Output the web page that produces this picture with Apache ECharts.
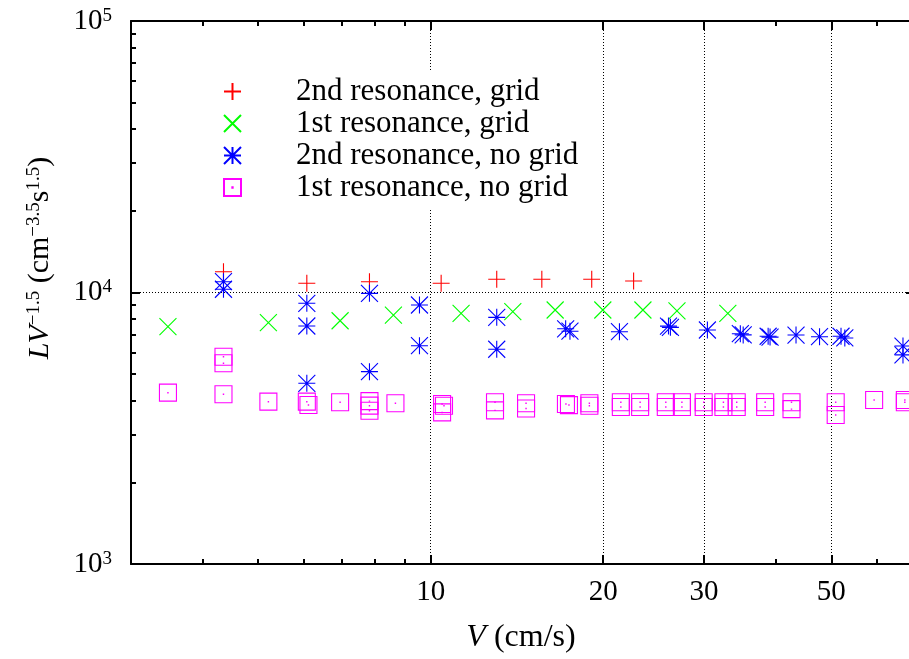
<!DOCTYPE html>
<html><head><meta charset="utf-8">
<script src="https://cdn.jsdelivr.net/npm/echarts@6/dist/echarts.min.js"></script>
<style>html,body{margin:0;padding:0;background:#fff}#c{width:909px;height:659px}</style>
</head><body><div id="c"></div>
<script>
// ---- axis ticks ----
const xMajor = [10, 20, 30, 50];
const xMinor = [4, 5, 6, 7, 8, 9, 40, 60];
const yMajor = [1000, 10000, 100000];
const yMinor = [2000, 3000, 4000, 5000, 6000, 7000, 8000, 9000, 20000, 30000, 40000, 50000, 60000, 70000, 80000, 90000];

// ---- series names ----
const names = ['2nd resonance, grid', '1st resonance, grid', '2nd resonance, no grid', '1st resonance, no grid'];

// ---- data: V (cm/s) and L V^-1.5 ----
const redV = [4.35, 6.08, 7.82, 10.43, 13.04, 15.63, 19.1, 22.6];
const redL = [11930, 10810, 10960, 10810, 11190, 11190, 11190, 11030];

const greenV = [3.48, 5.21, 6.95, 8.61, 11.3, 13.91, 16.49, 19.97, 23.46, 26.9, 33.0];
const greenL = [7480, 7740, 7870, 8260, 8380, 8500, 8620, 8620, 8620, 8550, 8380];

const blueV = [4.35, 4.35, 6.08, 6.08, 6.08, 7.82, 7.82, 9.56, 9.56, 13.04, 13.04, 17.2, 17.5, 21.35, 26.0, 26.2, 30.4, 34.7, 35.1, 38.8, 39.1, 43.4, 47.7, 52.0, 52.8, 66.7, 66.7];
const blueL = [10960, 10280, 9125, 7526, 4630, 9930, 5110, 8995, 6370, 8100, 6180, 7350, 7200, 7170, 7520, 7440, 7276, 7050, 6980, 6900, 6850, 6970, 6874, 6900, 6800, 6350, 5890];

const magV = [3.48, 4.35, 4.35, 4.35, 5.21, 6.08, 6.12, 6.95, 7.82, 7.82, 7.82, 8.68, 10.47, 10.55, 10.47, 12.95, 12.95, 14.67, 14.67, 17.22, 17.43, 18.92, 18.92, 21.47, 21.47, 23.2, 23.2, 25.72, 25.72, 27.44, 27.44, 29.95, 29.95, 32.42, 32.42, 34.2, 34.2, 38.34, 38.34, 42.62, 42.62, 50.9, 50.9, 59.4, 67.2, 67.2];
const magL = [4276, 5800, 5485, 4218, 3962, 3962, 3852, 3941, 3980, 3830, 3670, 3909, 3886, 3825, 3617, 3941, 3680, 3909, 3741, 3886, 3849, 3909, 3825, 3941, 3786, 3941, 3786, 3941, 3786, 3941, 3786, 3941, 3786, 3941, 3786, 3941, 3786, 3941, 3786, 3941, 3720, 3941, 3540, 4018, 4018, 3941];

const FONT = 'Liberation Serif';
const zip = (a, b) => a.map((v, i) => [v, b[i]]);

const SYM_PLUS = 'path://M5,0L5,10M0,5L10,5';
const SYM_CROSS = 'path://M0,0L10,10M0,10L10,0';
const SYM_STAR = 'path://M5,0L5,10M0,5L10,5M0,0L10,10M0,10L10,0';
const SYM_BOX = 'path://M0,0L10,0L10,10L0,10ZM4.9,4.9L5.1,4.9L5.1,5.1L4.9,5.1Z';

function xAx(position, ticks, len, line, labels, split) {
  return {
    type: 'log', min: 3, max: 70, position,
    axisLine: {show: true, lineStyle: {color: line ? '#000' : 'rgba(0,0,0,0)', width: 2}},
    axisTick: {show: true, inside: true, length: len, customValues: ticks, lineStyle: {color: '#000', width: 2}},
    axisLabel: {show: labels, customValues: xMajor, margin: 14, color: '#000', fontFamily: FONT, fontSize: 29},
    splitLine: {show: split, lineStyle: {color: '#000', width: 1, type: [1, 2]}}
  };
}
function yAx(position, ticks, len, line, labels, split) {
  return {
    type: 'log', min: 1000, max: 100000, position,
    axisLine: {show: true, lineStyle: {color: line ? '#000' : 'rgba(0,0,0,0)', width: 2}},
    axisTick: {show: true, inside: true, length: len, customValues: ticks, lineStyle: {color: '#000', width: 2}},
    axisLabel: {
      show: labels, customValues: yMajor, margin: 19, color: '#000',
      formatter: v => '{b|10}{e|' + Math.round(Math.log10(v)) + '}',
      rich: {
        b: {fontFamily: FONT, fontSize: 29, lineHeight: 29, color: '#000'},
        e: {fontFamily: FONT, fontSize: 19, lineHeight: 19, verticalAlign: 'top', color: '#000'}
      }
    },
    splitLine: {show: split, lineStyle: {color: '#000', width: 1, type: [1, 2]}}
  };
}

function sc(name, data, symbol, color) {
  return {
    name, type: 'scatter', xAxisIndex: 0, yAxisIndex: 0, data, symbol, symbolSize: 17,
    symbolKeepAspect: true,
    itemStyle: {color: 'rgba(0,0,0,0)', borderColor: color, borderWidth: 1.1, opacity: 1},
    emphasis: {disabled: true}, z: 3
  };
}

const chart = echarts.init(document.getElementById('c'), null, {renderer: 'canvas'});
chart.setOption({
  backgroundColor: '#fff',
  animation: false,
  grid: {left: 131, top: 21, width: 784, height: 543, outerBoundsMode: 'none'},
  xAxis: [
    xAx('bottom', xMajor, 9, true, true, true),
    xAx('top', xMajor, 9, true, false, false),
    xAx('bottom', xMinor, 5, false, false, false),
    xAx('top', xMinor, 5, false, false, false)
  ],
  yAxis: [
    yAx('left', yMajor, 9, true, true, true),
    yAx('right', yMajor, 9, true, false, false),
    yAx('left', yMinor, 5, false, false, false),
    yAx('right', yMinor, 5, false, false, false)
  ],
  legend: {
    orient: 'vertical', left: 213, top: 72,
    padding: [4, 10, 6, 10], backgroundColor: '#fff',
    itemWidth: 17, itemHeight: 17, itemGap: 1,
    selectedMode: false,
    textStyle: {fontFamily: FONT, fontSize: 31, color: '#000', padding: [0, 0, 0, 50]},
    data: names, z: 10
  },
  graphic: [
    {type: 'text', x: 40, y: 258, rotation: Math.PI / 2, z: 10,
      style: {
        text: '{i|LV}{s|−1.5}{n| (cm}{s|−3.5}{n|s}{s|1.5}{n|)}',
        align: 'center', verticalAlign: 'middle',
        rich: {
          i: {fontFamily: FONT, fontStyle: 'italic', fontSize: 30, lineHeight: 30, fill: '#000'},
          n: {fontFamily: FONT, fontSize: 30, lineHeight: 30, fill: '#000'},
          s: {fontFamily: FONT, fontSize: 19, lineHeight: 19, verticalAlign: 'top', fill: '#000'}
        }
      }},
    {type: 'text', x: 521, y: 638, z: 10,
      style: {
        text: '{i|V}{n| (cm/s)}', align: 'center', verticalAlign: 'middle',
        rich: {
          i: {fontFamily: FONT, fontStyle: 'italic', fontSize: 32, fill: '#000'},
          n: {fontFamily: FONT, fontSize: 32, fill: '#000'}
        }
      }}
  ],
  series: [
    sc(names[0], zip(redV, redL), SYM_PLUS, '#ff0000'),
    sc(names[1], zip(greenV, greenL), SYM_CROSS, '#00ff00'),
    sc(names[2], zip(blueV, blueL), SYM_STAR, '#0000ff'),
    sc(names[3], zip(magV, magL), SYM_BOX, '#ff00ff')
  ]
});
</script>
</body></html>
